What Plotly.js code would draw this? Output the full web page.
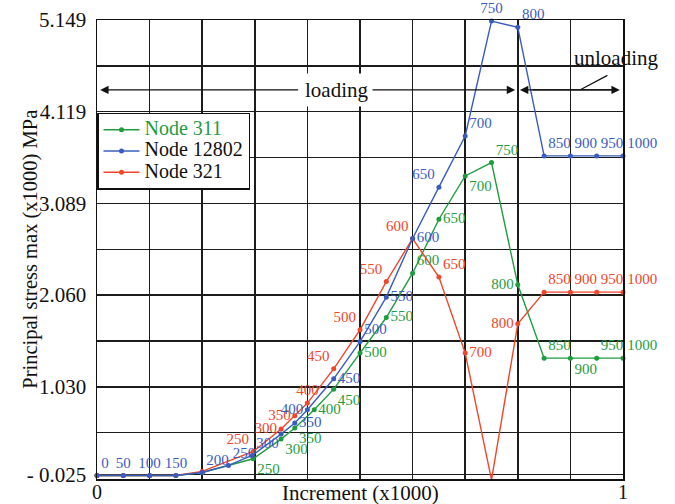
<!DOCTYPE html>
<html>
<head>
<meta charset="utf-8">
<script src="https://cdn.plot.ly/plotly-3.0.1.min.js"></script>
<style>html,body{margin:0;padding:0;background:#fff;}#chart{width:675px;height:504px;}</style>
</head>
<body>
<div id="chart"></div>
<script>
// ---- data (x in Increment (x1000), y in plotted stress units) ----
const greenX = [0,0.05,0.1,0.15,0.2,0.297,0.35,0.376,0.413,0.45,0.5,0.55,0.6,0.65,0.7,0.75,0.8,0.85,0.9,0.95,1.0];
const greenY = [0.035,0.035,0.035,0.035,0.068,0.222,0.443,0.567,0.772,1.004,1.409,1.808,2.306,2.912,3.398,3.548,2.175,1.352,1.352,1.352,1.352];
const greenLabels = ['','','','','','250','300','350','400','450','500','550','600','650','700','750','800','850','900','950','1000'];
const greenPos = ['top right','top right','top right','top right','top right','bottom right','bottom right','bottom right','middle right','bottom right','middle right','middle right','top right','middle right','bottom right','top right','middle left','top right','bottom right','top right','top right'];

const redX = [0,0.05,0.1,0.15,0.2,0.297,0.35,0.376,0.4,0.45,0.5,0.55,0.6,0.65,0.7,0.75,0.8,0.85,0.9,0.95,1.0];
const redY = [0.035,0.035,0.035,0.035,0.08,0.304,0.556,0.705,0.847,1.232,1.67,2.212,2.695,2.262,1.409,-0.013,1.737,2.093,2.093,2.093,2.093];
const redLabels = ['','','','','','250','300','350','400','450','500','550','600','650','700','750','800','850','900','950','1000'];
const redPos = ['top right','top right','top right','top right','top right','top left','middle left','middle left','top center','top left','top left','top left','top left','top right','middle right','top right','middle left','top right','top right','top right','top right'];

const blueX = [0,0.05,0.1,0.15,0.2,0.25,0.295,0.35,0.376,0.4,0.45,0.5,0.55,0.6,0.65,0.7,0.75,0.8,0.85,0.9,0.95,1.0];
const blueY = [0.035,0.035,0.035,0.035,0.068,0.147,0.259,0.499,0.623,0.772,1.12,1.538,2.037,2.695,3.272,3.847,5.138,5.067,3.623,3.623,3.623,3.623];
const blueLabels = ['0','50','100','150','200','250','300','','350','400','450','500','550','600','650','700','750','800','850','900','950','1000'];
const bluePos = ['top right','top center','top center','top center','top right','top right','top right','top right','middle right','middle left','middle right','top right','middle right','middle right','top left','top right','top center','top right','top right','top right','top right','top right'];

const yTickVals = [0.043, 1.0298, 2.0596, 3.0894, 4.1192, 5.149];
const yTickText = ['- 0.025', '1.030', '2.060', '3.089', '4.119', '5.149'];
const xTickVals = [0,0.1,0.2,0.3,0.4,0.5,0.6,0.7,0.8,0.9,1.0];
const xTickText = ['0','','','','','','','','','','1'];

const GREEN = '#1f9d3e', BLUE = '#3b5cbf', RED = '#f0462a';
const FONT = 'Liberation Serif, Times New Roman, serif';

function series(x, y, labels, pos, color, name, rank) {
  return {
    x: x, y: y, text: labels, textposition: pos,
    mode: 'lines+markers+text', type: 'scatter', name: name,
    legendrank: rank, cliponaxis: false,
    line: {color: color, width: 1.4},
    marker: {color: color, size: 5},
    textfont: {family: FONT, size: 15, color: color}
  };
}

function legendName(txt, color) {
  return '<span style="font-size:20px;color:' + color + '">' + txt + '</span>';
}

const data = [
  series(greenX, greenY, greenLabels, greenPos, GREEN, legendName('Node 311', GREEN), 1),
  series(redX, redY, redLabels, redPos, RED, legendName('Node 321', '#111'), 3),
  series(blueX, blueY, blueLabels, bluePos, BLUE, legendName('Node 12802', '#111'), 2)
];

const yLoad = 4.364;
const arrowBase = {xref: 'x', yref: 'y', axref: 'x', ayref: 'y', text: ' ', showarrow: true,
  arrowhead: 2, arrowsize: 1.4, arrowwidth: 1.2, arrowcolor: '#111', standoff: 0, startstandoff: 0};

const GRID = '#1c1c1c';
const layout = {
  width: 675, height: 504,
  margin: {l: 97, r: 52, t: 20, b: 25},
  paper_bgcolor: '#fff', plot_bgcolor: '#fff',
  font: {family: FONT, size: 21, color: '#111'},
  showlegend: true,
  legend: {x: 0, y: 0.798, xanchor: 'left', yanchor: 'top', bgcolor: '#fff',
    bordercolor: '#111', borderwidth: 1.5, font: {family: FONT, size: 14, color: '#111'},
    tracegroupgap: 0, itemwidth: 36},
  xaxis: {range: [0, 1], tickmode: 'array', tickvals: xTickVals, ticktext: xTickText,
    showgrid: true, gridcolor: GRID, gridwidth: 1.5, zeroline: false,
    showline: true, linecolor: '#111', linewidth: 1.5, mirror: true, ticks: '',
    ticklabelstandoff: -6,
    tickfont: {family: FONT, size: 20, color: '#111'}},
  yaxis: {range: [-0.005, 5.149], tickmode: 'array', tickvals: yTickVals, ticktext: yTickText,
    showgrid: true, gridcolor: GRID, gridwidth: 1.5, zeroline: false,
    showline: true, linecolor: '#111', linewidth: 1.5, mirror: true, ticks: '',
    ticklabelstandoff: 5,
    minor: {tickmode: 'linear', tick0: 0.5149, dtick: 1.0298, showgrid: true, gridcolor: GRID, gridwidth: 1.5, ticks: ''},
    tickfont: {family: FONT, size: 21, color: '#111'}},
  annotations: [
    Object.assign({}, arrowBase, {x: 0.006, y: yLoad, ax: 0.39, ay: yLoad}),
    Object.assign({}, arrowBase, {x: 0.795, y: yLoad, ax: 0.40, ay: yLoad}),
    Object.assign({}, arrowBase, {x: 0.804, y: yLoad, ax: 0.99, ay: yLoad}),
    Object.assign({}, arrowBase, {x: 0.994, y: yLoad, ax: 0.82, ay: yLoad}),
    Object.assign({}, arrowBase, {x: 0.918, y: yLoad, ax: 0.978, ay: 4.551, arrowhead: 0}),
    {xref: 'x', yref: 'y', x: 0.455, y: yLoad, text: 'loading', showarrow: false,
     bgcolor: '#fff', borderpad: 4, font: {family: FONT, size: 21, color: '#111'}},
    {xref: 'x', yref: 'y', x: 0.987, y: 4.723, text: 'unloading', showarrow: false,
     font: {family: FONT, size: 21, color: '#111'}},
    {xref: 'paper', yref: 'paper', x: 0.5, y: -0.031, xanchor: 'center', yanchor: 'middle', text: 'Increment (x1000)',
     showarrow: false, font: {family: FONT, size: 21, color: '#111'}},
    {xref: 'paper', yref: 'paper', x: -0.127, y: 0.5, xanchor: 'center', yanchor: 'middle', textangle: -90,
     text: 'Principal stress max (x1000) MPa',
     showarrow: false, font: {family: FONT, size: 20.5, color: '#111'}}
  ]
};

Plotly.newPlot('chart', data, layout, {staticPlot: true, displayModeBar: false});
</script>
</body>
</html>
